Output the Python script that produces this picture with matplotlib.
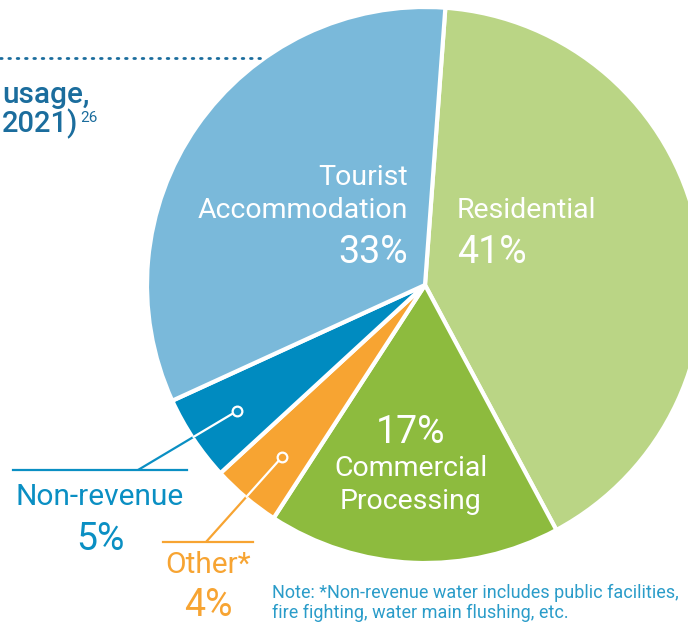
import matplotlib
matplotlib.use("Agg")
import matplotlib.pyplot as plt

# -------- data --------
sectors = ["Residential", "Commercial Processing", "Other*", "Non-revenue",
           "Tourist Accommodation"]
shares = [41, 17, 4, 5, 33]
colors = ["#bad585", "#8dbb3e", "#f7a432", "#008bc0", "#7ab9da"]

W, H = 688, 623
plt.rcParams['font.family'] = ['Roboto', 'DejaVu Sans']

fig = plt.figure(figsize=(W / 100, H / 100), dpi=100)
ax = fig.add_axes([0, 0, 1, 1])

# y axis is inverted below, so math-ccw shows clockwise on screen
wedges, _ = ax.pie(shares, colors=colors, center=(425, 285), radius=278,
                   startangle=-85.8, counterclock=True,
                   wedgeprops=dict(edgecolor="white", linewidth=3))
ax.set_xlim(0, W)
ax.set_ylim(H, 0)   # pixel coords, y down
ax.set_aspect("equal")
ax.axis("off")

# labels inside slices
white = "white"
ax.text(408, 185, "Tourist", color=white, fontsize=20.5, ha="right", va="baseline")
ax.text(408, 218, "Accommodation", color=white, fontsize=20.5, ha="right", va="baseline")
ax.text(408, 263, "33%", color=white, fontsize=27, ha="right", va="baseline")

ax.text(457, 218, "Residential", color=white, fontsize=20.5, ha="left", va="baseline")
ax.text(457, 263, "41%", color=white, fontsize=27, ha="left", va="baseline")

ax.text(411, 443, "17%", color=white, fontsize=27, ha="center", va="baseline")
ax.text(411, 476, "Commercial", color=white, fontsize=20.5, ha="center", va="baseline")
ax.text(411, 509, "Processing", color=white, fontsize=20.5, ha="center", va="baseline")


# callouts for the small slices
def callout(wedge, dot, elbow, x0, x1, col):
    ax.plot([dot[0], elbow[0]], [dot[1], elbow[1]], color=col, lw=1.6,
            solid_capstyle="butt", zorder=3)
    inner, = ax.plot([dot[0], elbow[0]], [dot[1], elbow[1]], color="white",
                     lw=1.6, zorder=4)
    inner.set_clip_path(wedge)
    ax.plot([x0, x1], [elbow[1], elbow[1]], color=col, lw=1.6, zorder=3)
    ax.plot(dot[0], dot[1], "o", ms=7, mfc=col, mec="white", mew=1.6, zorder=5)


nr_col = "#0a8fc3"
ot_col = "#f7a432"
callout(wedges[3], (237, 411), (138, 470), 13, 187, nr_col)
callout(wedges[2], (282, 457), (206, 542), 163, 253, ot_col)

ax.text(100, 505, "Non-revenue", color=nr_col, fontsize=21.5, ha="center", va="baseline")
ax.text(100, 550, "5%", color=nr_col, fontsize=27, ha="center", va="baseline")
ax.text(208, 573, "Other*", color=ot_col, fontsize=21.5, ha="center", va="baseline")
ax.text(208, 616, "4%", color=ot_col, fontsize=27, ha="center", va="baseline")

note_col = "#2a9cc9"
ax.text(272, 598, "Note: *Non-revenue water includes public facilities,",
        color=note_col, fontsize=13, ha="left", va="baseline")
ax.text(272, 618, "fire fighting, water main flushing, etc.",
        color=note_col, fontsize=13, ha="left", va="baseline")

# title block (only its right end shows in the crop)
title_col = "#1b6d9d"
ax.plot([0, 265], [58, 58], color=title_col, lw=2, ls=(0, (0.6, 2.4)),
        dash_capstyle="round")
ax.text(2, 103, "usage,", color=title_col, fontsize=21.5, ha="left",
        va="baseline", fontweight="medium")
ax.text(2, 132, "2021)", color=title_col, fontsize=21, ha="left",
        va="baseline", fontweight="medium")
ax.text(80, 122, "26", color=title_col, fontsize=11, ha="left", va="baseline")

fig.savefig("out.png", dpi=100)
